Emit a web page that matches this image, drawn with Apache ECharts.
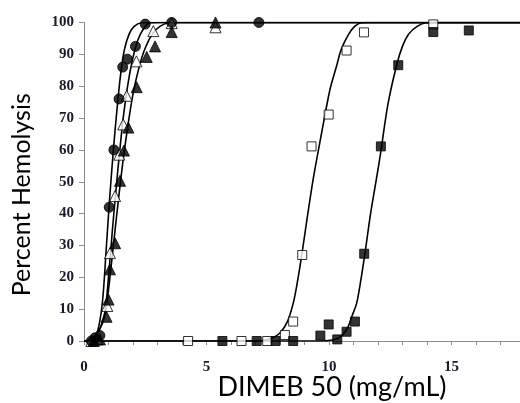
<!DOCTYPE html>
<html lang="en">
<head>
    <meta charset="UTF-8">
    <title>hemolysis</title>
    <script src="https://cdn.jsdelivr.net/npm/echarts@6/dist/echarts.min.js"></script>
    <style>
        html, body { margin: 0; padding: 0; background: #fff; }
        #chart { width: 520px; height: 403px; }
    </style>
</head>
<body>
<div id="chart"></div>
<script>
    // measured points (x = mg/mL, y = % hemolysis)
    var circX = [0.3, 0.45, 0.65, 1.03, 1.22, 1.43, 1.58, 1.77, 2.1, 2.5, 3.58, 7.14];
    var circY = [0, 1, 1.7, 42, 60, 76, 86, 88.5, 92.5, 99.5, 100, 100];
    var openTriX = [0.3, 0.55, 0.95, 1.06, 1.27, 1.44, 1.6, 1.74, 2.14, 2.83, 3.58, 5.37];
    var openTriY = [0, 0.5, 11, 27.6, 45.5, 58.5, 68, 77, 87.8, 97.3, 99.8, 98.5];
    var fillTriX = [0.4, 0.65, 0.92, 1.0, 1.06, 1.27, 1.47, 1.63, 1.81, 2.15, 2.56, 2.9, 3.58, 5.37];
    var fillTriY = [0, 0.5, 7.6, 13, 22.5, 30.7, 50.3, 59.8, 67, 79.7, 89.2, 92.5, 97, 100];
    var openSqX = [4.25, 6.43, 7.48, 8.2, 8.54, 8.91, 9.29, 9.99, 10.72, 11.43, 14.26];
    var openSqY = [0, 0, 0, 1.9, 6.1, 27, 61.1, 71.1, 91.2, 96.9, 99.4];
    var fillSqX = [5.65, 7.05, 7.82, 8.54, 9.65, 9.99, 10.34, 10.72, 11.06, 11.44, 12.12, 12.83, 14.26, 15.71];
    var fillSqY = [0, 0, 0, 0, 1.7, 5.2, 0.5, 2.9, 6.1, 27.4, 61.1, 86.6, 97, 97.5];

    // fitted curves
    var fitCircX = [0, 0.3, 0.55, 0.75, 0.9, 1.03, 1.2, 1.35, 1.5, 1.65, 1.85, 2.05, 2.35, 2.7, 17.8];
    var fitCircY = [0, 0.5, 3, 12, 28, 43, 60, 73, 84, 91.5, 96.5, 98.8, 99.9, 100, 100];
    var fitOpenTriX = [0, 0.3, 0.6, 0.85, 1.0, 1.15, 1.3, 1.45, 1.6, 1.8, 2.0, 2.2, 2.45, 2.7, 3.1, 17.8];
    var fitOpenTriY = [0, 0.5, 3, 9, 20, 34, 47, 59, 70, 81, 89, 94.5, 98.3, 99.9, 100, 100];
    var fitFillTriX = [0, 0.3, 0.6, 0.85, 1.0, 1.2, 1.4, 1.6, 1.8, 2.0, 2.25, 2.5, 2.8, 3.1, 3.5, 3.9, 17.8];
    var fitFillTriY = [0, 0.5, 3, 8, 16, 30, 44, 57, 68, 77.5, 86, 92, 96.5, 98.8, 99.9, 100, 100];
    var fitOpenSqX = [0, 7.0, 7.4, 7.7, 8.0, 8.3, 8.54, 8.7, 8.88, 9.1, 9.36, 9.7, 10.04, 10.3, 10.5, 10.8, 11.05, 11.33, 11.7, 17.8];
    var fitOpenSqY = [0, 0, 0.3, 1, 2.5, 6, 11.8, 18, 26.5, 38, 51, 65.3, 78.9, 86, 91.5, 96.3, 98.8, 99.9, 100, 100];
    var fitFillSqX = [0, 9.7, 10.04, 10.4, 10.72, 10.95, 11.13, 11.3, 11.47, 11.7, 11.94, 12.1, 12.4, 12.76, 13.0, 13.25, 13.6, 13.98, 14.4, 17.8];
    var fitFillSqY = [0, 0, 0.2, 1, 3.5, 8, 11.8, 19, 27.5, 40, 51, 58.5, 74, 86.5, 92.5, 96.3, 98.8, 99.9, 100, 100];

    var yTicks = [0, 10, 20, 30, 40, 50, 60, 70, 80, 90, 100];
    var xLabels = [0, 5, 10, 15];

    function pairs(xs, ys) {
        var out = [];
        for (var i = 0; i < xs.length; i++) {
            out.push([xs[i], ys[i]]);
        }
        return out;
    }

    function fit(xs, ys) {
        return {
            type: 'line',
            data: pairs(xs, ys),
            showSymbol: false,
            smooth: 0.3,
            lineStyle: {color: '#000', width: 1.6},
            silent: true,
            z: 2
        };
    }

    function dots(xs, ys, symbol, size, filled) {
        return {
            type: 'scatter',
            data: pairs(xs, ys),
            symbol: symbol,
            symbolSize: size,
            itemStyle: {
                color: filled ? '#000' : '#fff',
                borderColor: '#000',
                borderWidth: 1
            },
            z: 3
        };
    }

    var labelFont = {
        fontFamily: 'Liberation Serif',
        fontWeight: 'bold',
        fontSize: 15,
        color: '#1a1a2a'
    };

    var myChart = echarts.init(document.getElementById('chart'));
    myChart.setOption({
        animation: false,
        grid: {left: 84, right: 0, top: 22.5, bottom: 62, outerBoundsMode: 'none'},
        xAxis: {
            type: 'value',
            min: 0,
            max: 17.8,
            interval: 1,
            name: 'DIMEB 50 (mg/mL)',
            nameLocation: 'middle',
            nameGap: 33,
            nameMoveOverlap: false,
            nameTextStyle: {fontFamily: 'Lato', fontSize: 27, color: '#000', padding: [0, 0, 0, 60]},
            axisLine: {lineStyle: {color: '#8c8c8c', width: 1}},
            axisTick: {length: 4, lineStyle: {color: '#8c8c8c'}},
            axisLabel: Object.assign({
                margin: 19,
                showMaxLabel: false,
                formatter: function (v) {
                    return xLabels.indexOf(v) >= 0 ? String(v) : '';
                }
            }, labelFont),
            splitLine: {show: false}
        },
        yAxis: {
            type: 'value',
            min: 0,
            max: 100,
            interval: 10,
            name: 'Percent Hemolysis',
            nameLocation: 'middle',
            nameGap: 50,
            nameMoveOverlap: false,
            nameTextStyle: {fontFamily: 'Lato', fontSize: 25, color: '#000', padding: [0, 26, 0, 0]},
            axisLine: {show: true, lineStyle: {color: '#8c8c8c', width: 1}},
            axisTick: {show: true, length: 5, lineStyle: {color: '#8c8c8c'}},
            axisLabel: Object.assign({
                margin: 10,
                formatter: function (v) {
                    return yTicks.indexOf(v) >= 0 ? String(v) : '';
                }
            }, labelFont),
            splitLine: {show: false}
        },
        series: [
            fit(fitCircX, fitCircY),
            fit(fitOpenTriX, fitOpenTriY),
            fit(fitFillTriX, fitFillTriY),
            fit(fitOpenSqX, fitOpenSqY),
            fit(fitFillSqX, fitFillSqY),
            dots(openSqX, openSqY, 'rect', 9, false),
            dots(fillSqX, fillSqY, 'rect', 9, true),
            dots(openTriX, openTriY, 'triangle', 11, false),
            dots(fillTriX, fillTriY, 'triangle', 11, true),
            dots(circX, circY, 'circle', 10, true)
        ]
    });
</script>
</body>
</html>
